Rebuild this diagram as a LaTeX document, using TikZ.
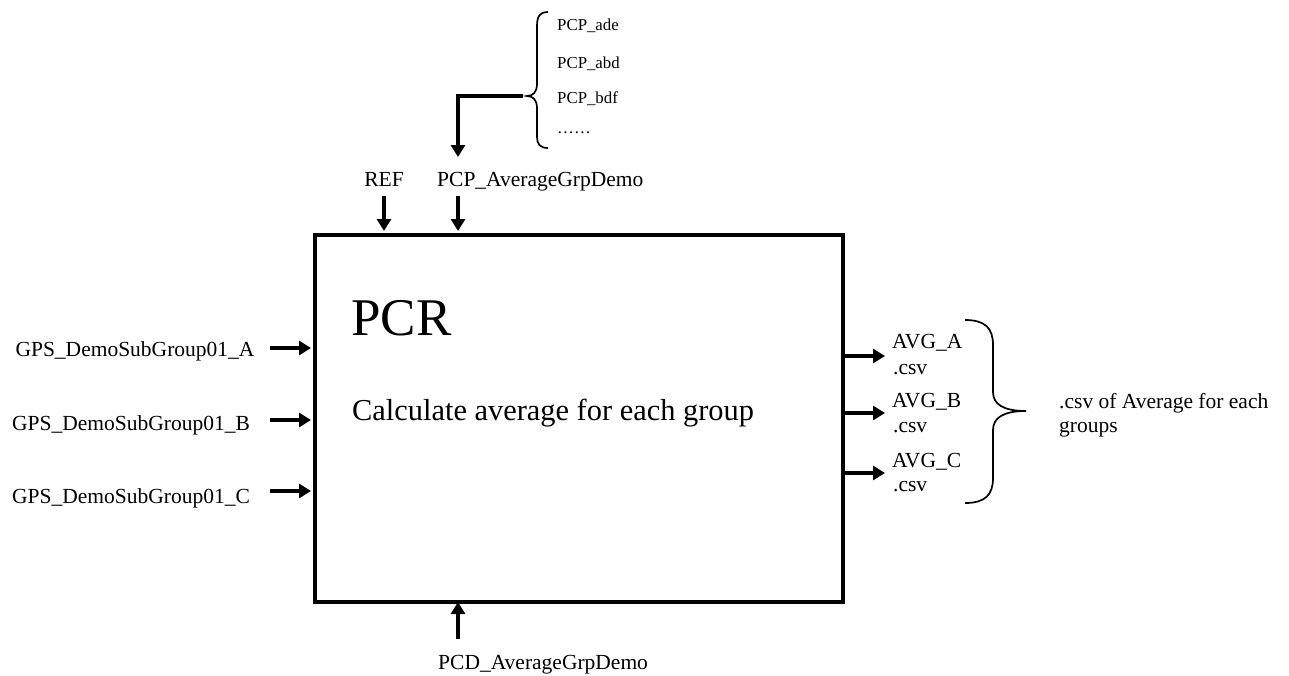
\documentclass[tikz,border=0pt]{standalone}
\usepackage{fontspec}
\setmainfont{Liberation Serif}
\usetikzlibrary{arrows.meta}
\begin{document}
\begin{tikzpicture}[x=1pt,y=-1pt,
  lbl/.style={inner sep=0pt,font=\fontsize{21.5}{25}\selectfont},
  small/.style={inner sep=0pt,font=\fontsize{16.8}{20}\selectfont},
  arr/.style={line width=3.8pt,-{Triangle[length=12pt,width=14pt]}},
  brc/.style={line width=1.7pt}]
\useasboundingbox (0,0) rectangle (1289,675);
% main box
\node[draw,line width=4pt,minimum width=528pt,minimum height=367pt,inner sep=0pt,anchor=north west] (box) at (313,233) {};
\node[inner sep=0pt,anchor=base west,font=\fontsize{53}{60}\selectfont] (pcr) at (351,335) {PCR};
\node[inner sep=0pt,anchor=base west,font=\fontsize{30.4}{34}\selectfont] (calc) at (352,420) {Calculate average for each group};
% top labels
\node[lbl,anchor=base] (ref) at (384,186) {REF};
\node[lbl,anchor=base west] (pcp) at (437,186) {PCP\_AverageGrpDemo};
\coordinate (refin) at (384,231);
\coordinate (pcpin) at (458,231);
\coordinate (reftop) at (384,196);
\coordinate (pcptop) at (458,196);
\draw[arr] (reftop) -- (refin);
\draw[arr] (pcptop) -- (pcpin);
% PCP list with brace
\node[small,anchor=base west] (l1) at (557,30) {PCP\_ade};
\node[small,anchor=base west] (l2) at (557,68) {PCP\_abd};
\node[small,anchor=base west] (l3) at (557,103) {PCP\_bdf};
\node[small,anchor=base west] (l4) at (557,133) {\dots\dots};
\coordinate (btip) at (527,96);
\draw[brc] (548,12) .. controls (540,12) and (537,16) .. (537,26) -- (537,84)
  .. controls (537,92) and (533,96) .. (btip)
  .. controls (533,96) and (537,100) .. (537,108) -- (537,137)
  .. controls (537,144) and (540,148) .. (548,148);
\coordinate (bstart) at (523,96);
\coordinate (pcparr) at (458,157);
\draw[arr] (bstart) -| (pcparr);
% left inputs
\node[lbl,anchor=base] (ga) at (135,356) {GPS\_DemoSubGroup01\_A};
\node[lbl,anchor=base] (gb) at (131,430) {GPS\_DemoSubGroup01\_B};
\node[lbl,anchor=base] (gc) at (131,503) {GPS\_DemoSubGroup01\_C};
\coordinate (ia) at (311,348); \coordinate (ib) at (311,420); \coordinate (ic) at (311,491);
\draw[arr] (270,348) -- (ia);
\draw[arr] (270,420) -- (ib);
\draw[arr] (270,491) -- (ic);
% bottom control
\node[lbl,anchor=base west] (pcd) at (438,669) {PCD\_AverageGrpDemo};
\coordinate (pcdin) at (458,602);
\draw[arr] (458,639) -- (pcdin);
% outputs
\coordinate (oa) at (885,356); \coordinate (ob) at (885,413); \coordinate (oc) at (885,473);
\draw[arr] (843,356) -- (oa);
\draw[arr] (843,413) -- (ob);
\draw[arr] (843,473) -- (oc);
\node[lbl,anchor=base west] (aa) at (892,348) {AVG\_A};
\node[lbl,anchor=base west] (aac) at (893,374) {.csv};
\node[lbl,anchor=base west] (ba) at (892,407) {AVG\_B};
\node[lbl,anchor=base west] (bac) at (893,432) {.csv};
\node[lbl,anchor=base west] (ca) at (892,467) {AVG\_C};
\node[lbl,anchor=base west] (cac) at (893,491) {.csv};
\coordinate (rtip) at (1026,411);
\draw[brc] (965,320) .. controls (985,320) and (993,328) .. (993,345) -- (993,392)
  .. controls (993,404) and (1003,411) .. (rtip)
  .. controls (1003,411) and (993,418) .. (993,430) -- (993,478)
  .. controls (993,495) and (985,503) .. (965,503);
\node[lbl,anchor=base west] (res) at (1059,408) {.csv of Average for each};
\node[lbl,anchor=base west] (res2) at (1059,432) {groups};
\end{tikzpicture}
\end{document}
